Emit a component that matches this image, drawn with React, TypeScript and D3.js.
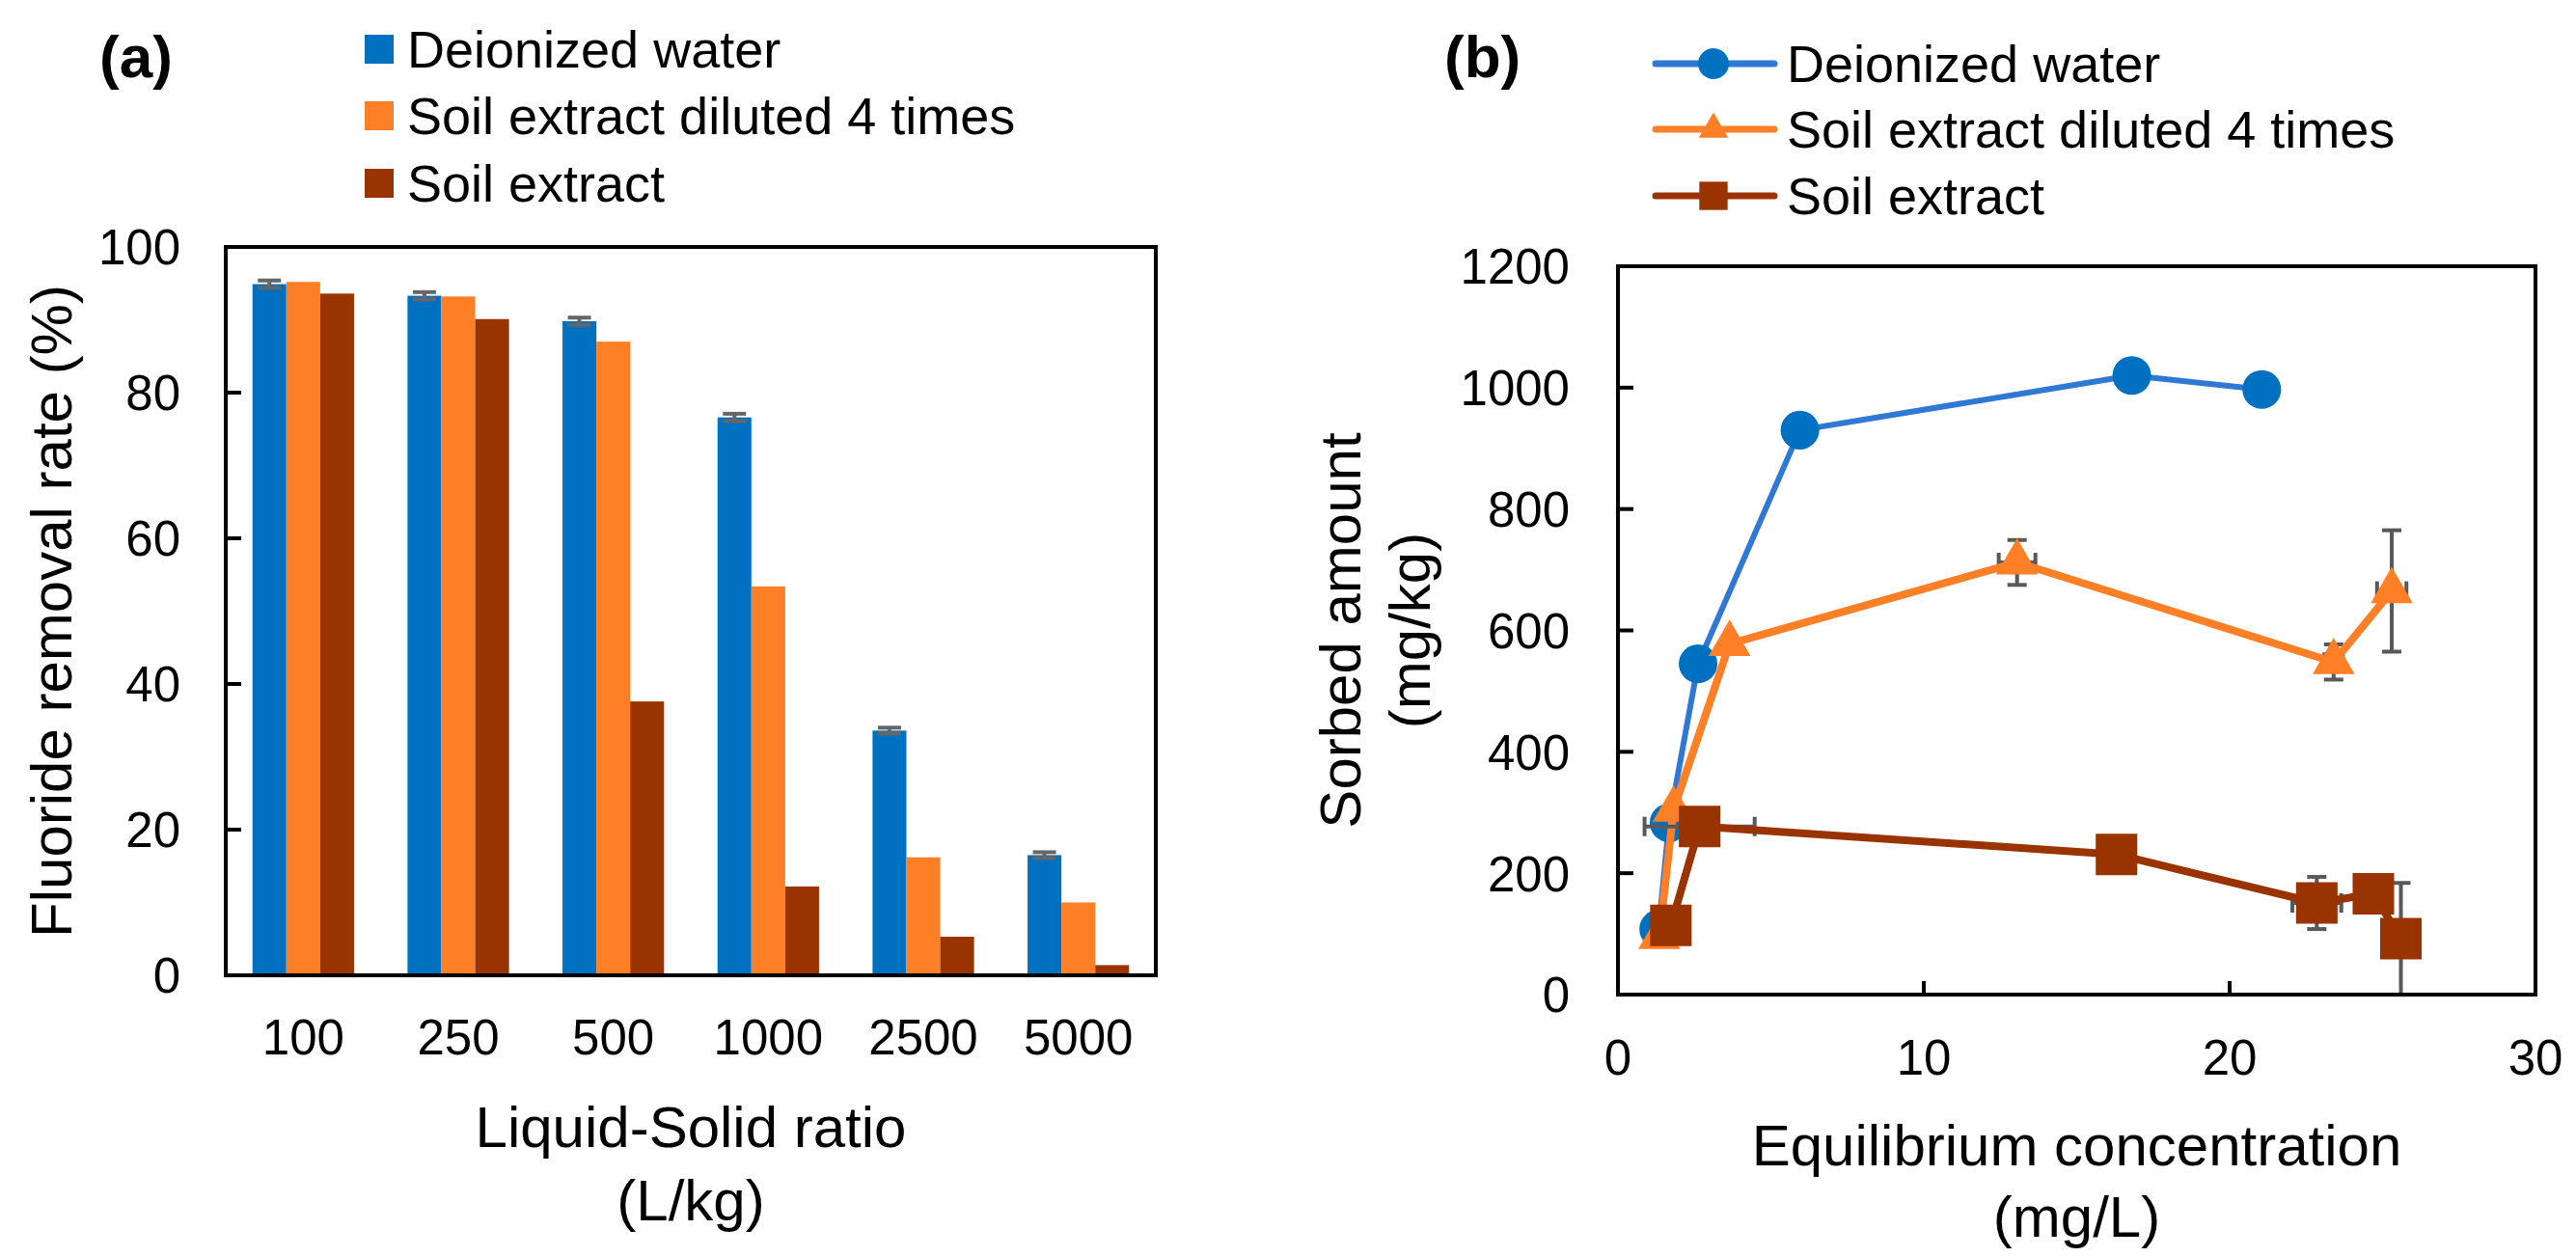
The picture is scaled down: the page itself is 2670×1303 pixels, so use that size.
import * as d3 from "d3"

// ---- panel (a): removal rate by liquid-solid ratio ----
const ratios = ["100", "250", "500", "1000", "2500", "5000"]
const rateDeionized = [94.9, 93.3, 89.8, 76.6, 33.6, 16.5]
const rateDeionizedErr = [0.5, 0.5, 0.5, 0.5, 0.4, 0.4]
const rateDiluted = [95.2, 93.2, 87.0, 53.4, 16.2, 10.0]
const rateExtract = [93.6, 90.1, 37.6, 12.2, 5.3, 1.4]
const rateTicks = [0, 20, 40, 60, 80, 100]

// ---- panel (b): sorbed amount vs equilibrium concentration ----
const deionizedX = [1.33, 1.67, 2.62, 5.95, 16.8, 21.05]
const deionizedY = [108, 283, 545, 930, 1020, 997]
const dilutedX = [1.35, 1.82, 3.65, 13.05, 23.4, 25.3]
const dilutedY = [95, 305, 578, 712, 548, 665]
const dilutedXErr = [0, 0, 0, 0.6, 0.3, 0.48]
const dilutedYErr = [0, 0, 0, 37, 29, 100]
const extractX = [1.73, 2.67, 16.3, 22.85, 24.7, 25.6]
const extractY = [114, 277, 231, 151, 166, 92]
const extractXErr = [0, 1.8, 0, 0.8, 0, 0]
const extractYErr = [0, 0, 0, 43, 0, 92]
const concTicks = [0, 10, 20, 30]
const sorbedTicks = [0, 200, 400, 600, 800, 1000, 1200]

const seriesNames = ["Deionized water", "Soil extract diluted 4 times", "Soil extract"]
const BLUE = "#0070C0"
const BLUE_LINE = "#2F78D4"
const ORANGE = "#FF7F27"
const BROWN = "#993300"
const ERR = "#595959"
const FONT = "'Liberation Sans', Arial, sans-serif"

const W = 2670
const H = 1303

function PanelA() {
  const left = 234, right = 1198, top = 256, bottom = 1011
  const x0 = d3.scaleBand<string>().domain(ratios).range([left, right]).paddingInner(0).paddingOuter(0)
  const groupW = x0.bandwidth() * 0.655
  const x1 = d3.scaleBand<string>().domain(seriesNames).range([0, groupW])
  const y = d3.scaleLinear().domain([0, 100]).range([bottom, top])
  const series = [
    { name: seriesNames[0], values: rateDeionized, color: BLUE },
    { name: seriesNames[1], values: rateDiluted, color: ORANGE },
    { name: seriesNames[2], values: rateExtract, color: BROWN },
  ]
  const groupStart = (c: string) => (x0(c) || 0) + (x0.bandwidth() - groupW) / 2

  return (
    <g>
      <text x={103} y={80} fontSize={62} fontWeight="bold" fontFamily={FONT}>(a)</text>
      {series.map((s, i) => (
        <g key={s.name}>
          <rect x={378} y={[51, 120, 190][i] - 15} width={30} height={30} fill={s.color} />
          <text x={422} y={[51, 120, 190][i]} dy="0.36em" fontSize={54} fontFamily={FONT}>{s.name}</text>
        </g>
      ))}
      {series.map((s) =>
        s.values.map((v, j) => (
          <rect
            key={s.name + j}
            x={groupStart(ratios[j]) + (x1(s.name) || 0)}
            y={y(v)}
            width={x1.bandwidth()}
            height={y(0) - y(v)}
            fill={s.color}
          />
        ))
      )}
      {rateDeionized.map((v, j) => {
        const cx = groupStart(ratios[j]) + (x1(seriesNames[0]) || 0) + x1.bandwidth() / 2
        const e = rateDeionizedErr[j]
        return (
          <g key={"e" + j} stroke="#666" strokeWidth={4}>
            <line x1={cx} x2={cx} y1={y(v + e)} y2={y(v - e)} />
            <line x1={cx - 12} x2={cx + 12} y1={y(v + e)} y2={y(v + e)} />
            <line x1={cx - 12} x2={cx + 12} y1={y(v - e)} y2={y(v - e)} />
          </g>
        )
      })}
      <rect x={left} y={top} width={right - left} height={bottom - top} fill="none" stroke="#000" strokeWidth={4} />
      {rateTicks.map((t) => (
        <g key={t}>
          {t > 0 && t < 100 && <line x1={left} x2={left + 16} y1={y(t)} y2={y(t)} stroke="#000" strokeWidth={4} />}
          <text x={187} y={y(t)} dy="0.36em" textAnchor="end" fontSize={51} fontFamily={FONT}>{t}</text>
        </g>
      ))}
      {ratios.map((c) => (
        <text key={c} x={(x0(c) || 0) + x0.bandwidth() / 2} y={1075} dy="0.36em" textAnchor="middle" fontSize={51} fontFamily={FONT}>{c}</text>
      ))}
      <text x={(left + right) / 2} y={1167} dy="0.36em" textAnchor="middle" fontSize={60} fontFamily={FONT}>Liquid-Solid ratio</text>
      <text x={(left + right) / 2} y={1243} dy="0.36em" textAnchor="middle" fontSize={60} fontFamily={FONT}>(L/kg)</text>
      <text transform={`translate(52,${(top + bottom) / 2}) rotate(-90)`} dy="0.36em" textAnchor="middle" fontSize={60} fontFamily={FONT}>Fluoride removal rate (%)</text>
    </g>
  )
}

function PanelB() {
  const left = 1677, right = 2628, top = 276, bottom = 1031
  const x = d3.scaleLinear().domain([0, 30]).range([left, right])
  const y = d3.scaleLinear().domain([0, 1200]).range([bottom, top])
  const series = [
    { name: seriesNames[0], xs: deionizedX, ys: deionizedY, xe: [] as number[], ye: [] as number[], color: BLUE, line: BLUE_LINE, lw: 6, shape: d3.symbolCircle, size: 1260, lsize: 800 },
    { name: seriesNames[1], xs: dilutedX, ys: dilutedY, xe: dilutedXErr, ye: dilutedYErr, color: ORANGE, line: ORANGE, lw: 8, shape: d3.symbolTriangle, size: 820, lsize: 400 },
    { name: seriesNames[2], xs: extractX, ys: extractY, xe: extractXErr, ye: extractYErr, color: BROWN, line: BROWN, lw: 8, shape: d3.symbolSquare, size: 1850, lsize: 860 },
  ]
  const line = d3.line<[number, number]>().x((d) => x(d[0])).y((d) => y(d[1]))
  const legendY = [66, 134, 203]

  return (
    <g>
      <text x={1497} y={80} fontSize={62} fontWeight="bold" fontFamily={FONT}>(b)</text>
      {series.map((s, i) => (
        <g key={s.name}>
          <line x1={1716} x2={1839} y1={legendY[i]} y2={legendY[i]} stroke={s.line} strokeWidth={7} strokeLinecap="round" />
          <path d={d3.symbol().type(s.shape).size(s.lsize)() || ""} transform={`translate(1776,${legendY[i]})`} fill={s.color} />
          <text x={1852} y={legendY[i]} dy="0.36em" fontSize={54} fontFamily={FONT}>{s.name}</text>
        </g>
      ))}
      {series.map((s) => {
        const pts = s.xs.map((v, j) => [v, s.ys[j]] as [number, number])
        return (
          <g key={s.name}>
            {pts.map((p, j) => {
              const ye = s.ye[j] || 0
              const xe = s.xe[j] || 0
              const lo = Math.max(0, p[1] - ye)
              return (
                <g key={j} stroke={ERR} strokeWidth={4}>
                  {ye > 0 && (
                    <>
                      <line x1={x(p[0])} x2={x(p[0])} y1={y(p[1] + ye)} y2={y(lo)} />
                      <line x1={x(p[0]) - 10} x2={x(p[0]) + 10} y1={y(p[1] + ye)} y2={y(p[1] + ye)} />
                      <line x1={x(p[0]) - 10} x2={x(p[0]) + 10} y1={y(lo)} y2={y(lo)} />
                    </>
                  )}
                  {xe > 0 && (
                    <>
                      <line x1={x(p[0] - xe)} x2={x(p[0] + xe)} y1={y(p[1])} y2={y(p[1])} />
                      <line x1={x(p[0] - xe)} x2={x(p[0] - xe)} y1={y(p[1]) - 10} y2={y(p[1]) + 10} />
                      <line x1={x(p[0] + xe)} x2={x(p[0] + xe)} y1={y(p[1]) - 10} y2={y(p[1]) + 10} />
                    </>
                  )}
                </g>
              )
            })}
            <path d={line(pts) || ""} fill="none" stroke={s.line} strokeWidth={s.lw} strokeLinejoin="round" />
            {pts.map((p, j) => (
              <path key={"m" + j} d={d3.symbol().type(s.shape).size(s.size)() || ""} transform={`translate(${x(p[0])},${y(p[1])})`} fill={s.color} />
            ))}
          </g>
        )
      })}
      <rect x={left} y={top} width={right - left} height={bottom - top} fill="none" stroke="#000" strokeWidth={4} />
      {sorbedTicks.map((t) => (
        <g key={t}>
          {t > 0 && t < 1200 && <line x1={left} x2={left + 16} y1={y(t)} y2={y(t)} stroke="#000" strokeWidth={4} />}
          <text x={1627} y={y(t)} dy="0.36em" textAnchor="end" fontSize={51} fontFamily={FONT}>{t}</text>
        </g>
      ))}
      {concTicks.map((t) => (
        <g key={t}>
          {t > 0 && t < 30 && <line x1={x(t)} x2={x(t)} y1={bottom} y2={bottom - 14} stroke="#000" strokeWidth={4} />}
          <text x={x(t)} y={1096} dy="0.36em" textAnchor="middle" fontSize={51} fontFamily={FONT}>{t}</text>
        </g>
      ))}
      <text x={(left + right) / 2} y={1186} dy="0.36em" textAnchor="middle" fontSize={60} fontFamily={FONT}>Equilibrium concentration</text>
      <text x={(left + right) / 2} y={1260} dy="0.36em" textAnchor="middle" fontSize={60} fontFamily={FONT}>(mg/L)</text>
      <text transform={`translate(1388,${(top + bottom) / 2}) rotate(-90)`} dy="0.36em" textAnchor="middle" fontSize={60} fontFamily={FONT}>Sorbed amount</text>
      <text transform={`translate(1460,${(top + bottom) / 2}) rotate(-90)`} dy="0.36em" textAnchor="middle" fontSize={60} fontFamily={FONT}>(mg/kg)</text>
    </g>
  )
}

export default function App() {
  return (
    <svg width={W} height={H} viewBox={`0 0 ${W} ${H}`} style={{ position: "absolute", left: 0, top: 0, background: "#fff" }}>
      <rect width={W} height={H} fill="#fff" />
      <PanelA />
      <PanelB />
    </svg>
  )
}
